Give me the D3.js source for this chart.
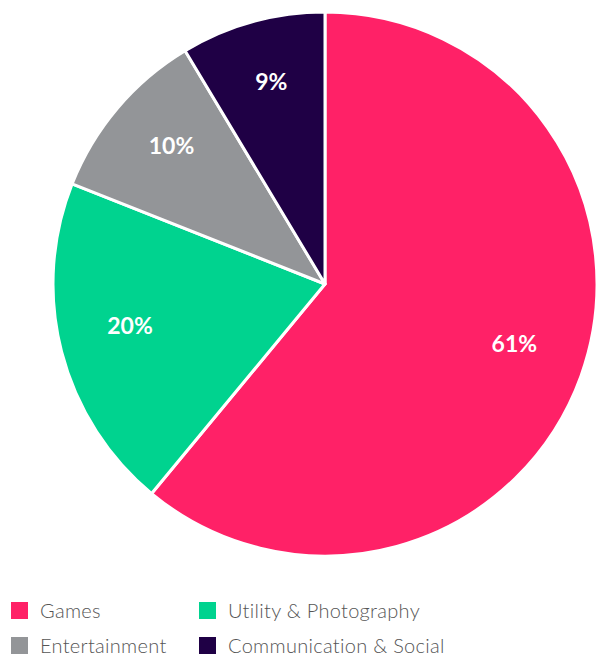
<!DOCTYPE html>
<html>
<head>
<meta charset="utf-8">
<script src="https://cdn.jsdelivr.net/npm/d3@7"></script>
<style>
  body { margin: 0; background: #fff; }
  svg { display: block; }
</style>
</head>
<body>
<svg id="chart" width="599" height="657"></svg>
<script>
const categories = ['Games', 'Utility & Photography', 'Entertainment', 'Communication & Social']
const values = [61.0, 20.0, 10.4, 8.6]
const colors = ['#FF2167', '#00D38F', '#939598', '#1F0045']

const cx = 325
const cy = 284
const radius = 272

const svg = d3.select('#chart')

const pie = d3.pie().sort(null).value(d => d)
const arcs = pie(values)

const arc = d3.arc().innerRadius(0).outerRadius(radius)
const labelArc = d3.arc().innerRadius(radius * 0.74).outerRadius(radius * 0.74)

const g = svg.append('g')
    .attr('transform', `translate(${cx},${cy})`)

g.selectAll('path')
    .data(arcs)
    .enter()
    .append('path')
    .attr('d', arc)
    .attr('fill', (d, i) => colors[i])
    .attr('stroke', '#fff')
    .attr('stroke-width', 3)
    .attr('stroke-linejoin', 'round')

g.selectAll('text')
    .data(arcs)
    .enter()
    .append('text')
    .attr('transform', d => `translate(${labelArc.centroid(d)})`)
    .attr('text-anchor', 'middle')
    .attr('fill', '#fff')
    .attr('font-family', 'Lato, sans-serif')
    .attr('font-weight', 'bold')
    .attr('font-size', 23)
    .text(d => Math.round(d.data) + '%')

// legend, two columns
const legend = svg.append('g')
const colX = [11, 199]
const rowY = [602, 637]

categories.forEach((c, i) => {
    const x = colX[i % 2]
    const y = rowY[Math.floor(i / 2)]
    legend.append('rect')
        .attr('x', x)
        .attr('y', y)
        .attr('width', 17)
        .attr('height', 17)
        .attr('fill', colors[i])
    legend.append('text')
        .attr('x', x + 29)
        .attr('y', y + 16)
        .attr('fill', '#555')
        .attr('font-family', 'Lato, sans-serif')
        .attr('font-weight', 300)
        .attr('font-size', 20)
        .attr('letter-spacing', 0.3)
        .text(c)
})
</script>
</body>
</html>
